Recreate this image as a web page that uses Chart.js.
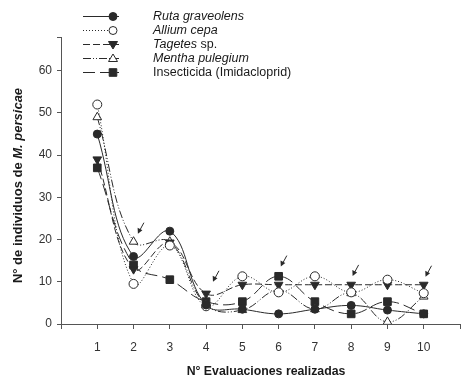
<!DOCTYPE html>
<html>
<head>
<meta charset="utf-8">
<script src="https://cdn.jsdelivr.net/npm/chart.js@4.4.0/dist/chart.umd.min.js"></script>
<style>
  body { margin: 0; background: #fff; }
  #wrap { width: 471px; height: 388px; }
</style>
</head>
<body>
<div id="wrap"><canvas id="chart"></canvas></div>
<script>
// --- data ---
const evaluaciones = [1, 2, 3, 4, 5, 6, 7, 8, 9, 10];
const ruta        = [45, 16, 22, 4.5, 3.5, 2.4, 3.5, 4.4, 3.3, 2.4];
const allium      = [52, 9.5, 18.6, 4.2, 11.3, 7.5, 11.3, 7.5, 10.5, 7.3];
const tagetes     = [39, 13, 19.3, 7.2, 9.3, 9.3, 9.3, 9.3, 9.3, 9.3];
const mentha      = [49, 19.5, 19.5, 4.5, 3.3, 8, 3.5, 7.3, 0.5, 6.5];
const insecticida = [37, 14, 10.5, 5.3, 5.3, 11.3, 5.3, 2.4, 5.3, 2.4];

// arrows marking the applications (x, y in data units of the tip)
const arrowX = [2.12, 4.19, 6.06, 8.04, 10.05];
const arrowY = [21.4, 10, 13.6, 11.4, 11.2];

const legendLabels = [
    [{ t: 'Ruta graveolens', i: true }],
    [{ t: 'Allium cepa', i: true }],
    [{ t: 'Tagetes', i: true }, { t: ' sp.', i: false }],
    [{ t: 'Mentha pulegium', i: true }],
    [{ t: 'Insecticida (Imidacloprid)', i: false }]
];

const FONT = '"Liberation Sans", Arial, sans-serif';
const INK = '#2a2a2a';

const toXY = (arr) => arr.map((v, k) => ({ x: evaluaciones[k], y: v }));

// marker drawing for the hand-made legend
function marker(ctx, style, x, y) {
    ctx.save();
    ctx.strokeStyle = INK;
    ctx.lineWidth = 1;
    ctx.setLineDash([]);
    ctx.beginPath();
    if (style === 'circle' || style === 'ocircle') {
        ctx.arc(x, y, 4, 0, Math.PI * 2);
    } else if (style === 'down') {
        ctx.moveTo(x - 4.5, y - 3); ctx.lineTo(x + 4.5, y - 3); ctx.lineTo(x, y + 4.5); ctx.closePath();
    } else if (style === 'up') {
        ctx.moveTo(x - 4.5, y + 3); ctx.lineTo(x + 4.5, y + 3); ctx.lineTo(x, y - 4.5); ctx.closePath();
    } else {
        ctx.rect(x - 3.8, y - 3.8, 7.6, 7.6);
    }
    ctx.fillStyle = (style === 'ocircle' || style === 'up') ? '#fff' : INK;
    ctx.fill();
    ctx.stroke();
    ctx.restore();
}

// draws a run of text parts, some italic, centred on 0
function mixedText(ctx, parts, weight, size) {
    let total = 0;
    parts.forEach(p => {
        ctx.font = (p.i ? 'italic ' : '') + weight + ' ' + size + 'px ' + FONT;
        total += ctx.measureText(p.t).width;
    });
    let tx = -total / 2;
    parts.forEach(p => {
        ctx.font = (p.i ? 'italic ' : '') + weight + ' ' + size + 'px ' + FONT;
        ctx.fillText(p.t, tx, 0);
        tx += ctx.measureText(p.t).width;
    });
}

const legendStyles = ['circle', 'ocircle', 'down', 'up', 'rect'];

const extrasPlugin = {
    id: 'extras',
    afterDraw(chart) {
        const ctx = chart.ctx;
        const xs = chart.scales.x, ys = chart.scales.y;

        // legend
        chart.data.datasets.forEach((ds, k) => {
            const y = 16.5 + k * 14;
            ctx.save();
            ctx.strokeStyle = INK;
            ctx.lineWidth = 1;
            ctx.setLineDash(ds.borderDash || []);
            ctx.beginPath();
            ctx.moveTo(83, y); ctx.lineTo(119, y);
            ctx.stroke();
            ctx.restore();
            marker(ctx, legendStyles[k], 113, y);

            let tx = 153;
            ctx.save();
            ctx.fillStyle = '#1a1a1a';
            ctx.textBaseline = 'middle';
            legendLabels[k].forEach(p => {
                ctx.font = (p.i ? 'italic ' : '') + '12.5px ' + FONT;
                ctx.fillText(p.t, tx, y);
                tx += ctx.measureText(p.t).width;
            });
            ctx.restore();
        });

        // arrows
        ctx.save();
        ctx.strokeStyle = INK;
        ctx.fillStyle = INK;
        ctx.lineWidth = 1;
        arrowX.forEach((ax, k) => {
            const px = xs.getPixelForValue(ax), py = ys.getPixelForValue(arrowY[k]);
            ctx.beginPath();
            ctx.moveTo(px + 6, py - 11);
            ctx.lineTo(px + 1.5, py - 2.7);
            ctx.stroke();
            ctx.beginPath();
            ctx.moveTo(px, py);
            ctx.lineTo(px - 0.3, py - 6);
            ctx.lineTo(px + 4.5, py - 3.5);
            ctx.closePath();
            ctx.fill();
        });
        ctx.restore();

        // axis titles
        ctx.save();
        ctx.fillStyle = '#1a1a1a';
        ctx.textBaseline = 'middle';
        ctx.translate(18, 185.5);
        ctx.rotate(-Math.PI / 2);
        mixedText(ctx, [{ t: 'N° de individuos de ', i: false }, { t: 'M. persicae', i: true }], 'bold', 13);
        ctx.restore();

        ctx.save();
        ctx.fillStyle = '#1a1a1a';
        ctx.textBaseline = 'middle';
        ctx.translate(266, 372);
        mixedText(ctx, [{ t: 'N° Evaluaciones realizadas', i: false }], 'bold', 12.3);
        ctx.restore();
    }
};

const common = {
    borderColor: INK,
    borderWidth: 1,
    pointBorderColor: INK,
    pointBorderWidth: 1,
    tension: 0.4,
    fill: false
};

new Chart(document.getElementById('chart'), {
    type: 'line',
    data: {
        datasets: [
            { ...common, label: 'Ruta graveolens', data: toXY(ruta),
              pointStyle: 'circle', pointRadius: 4, pointBackgroundColor: INK },
            { ...common, label: 'Allium cepa', data: toXY(allium), borderDash: [1, 2],
              pointStyle: 'circle', pointRadius: 4.5, pointBackgroundColor: '#fff' },
            { ...common, label: 'Tagetes sp.', data: toXY(tagetes), borderDash: [7, 3],
              pointStyle: 'triangle', pointRotation: 180, pointRadius: 5, pointBackgroundColor: INK },
            { ...common, label: 'Mentha pulegium', data: toXY(mentha), borderDash: [8, 2, 1, 2, 1, 2],
              pointStyle: 'triangle', pointRadius: 5, pointBackgroundColor: '#fff' },
            { ...common, label: 'Insecticida (Imidacloprid)', data: toXY(insecticida), borderDash: [12, 5],
              pointStyle: 'rect', pointRadius: 5.4, pointBackgroundColor: INK }
        ]
    },
    options: {
        responsive: true,
        maintainAspectRatio: false,
        animation: false,
        layout: { padding: { top: 37, right: 11, left: 0, bottom: 0 } },
        plugins: { legend: { display: false }, tooltip: { enabled: false } },
        scales: {
            x: {
                type: 'linear',
                min: 0,
                max: 11,
                afterFit: (s) => { s.height = 64; },
                border: { display: true, color: '#555', width: 1 },
                grid: { display: true, drawOnChartArea: false, drawTicks: true, tickLength: 5, color: '#555' },
                ticks: {
                    stepSize: 1,
                    padding: 11,
                    color: '#333',
                    font: { family: FONT, size: 12 },
                    callback: (v) => (v >= 1 && v <= 10 ? v : '')
                }
            },
            y: {
                min: 0,
                max: 68,
                afterFit: (s) => { s.width = 61; },
                border: { display: true, color: '#555', width: 1 },
                grid: { display: true, drawOnChartArea: false, drawTicks: true, tickLength: 4, color: '#555' },
                ticks: {
                    stepSize: 10,
                    padding: 5,
                    color: '#333',
                    font: { family: FONT, size: 12 },
                    callback: (v) => (v % 10 === 0 ? v : '')
                }
            }
        }
    },
    plugins: [extrasPlugin]
});
</script>
</body>
</html>
